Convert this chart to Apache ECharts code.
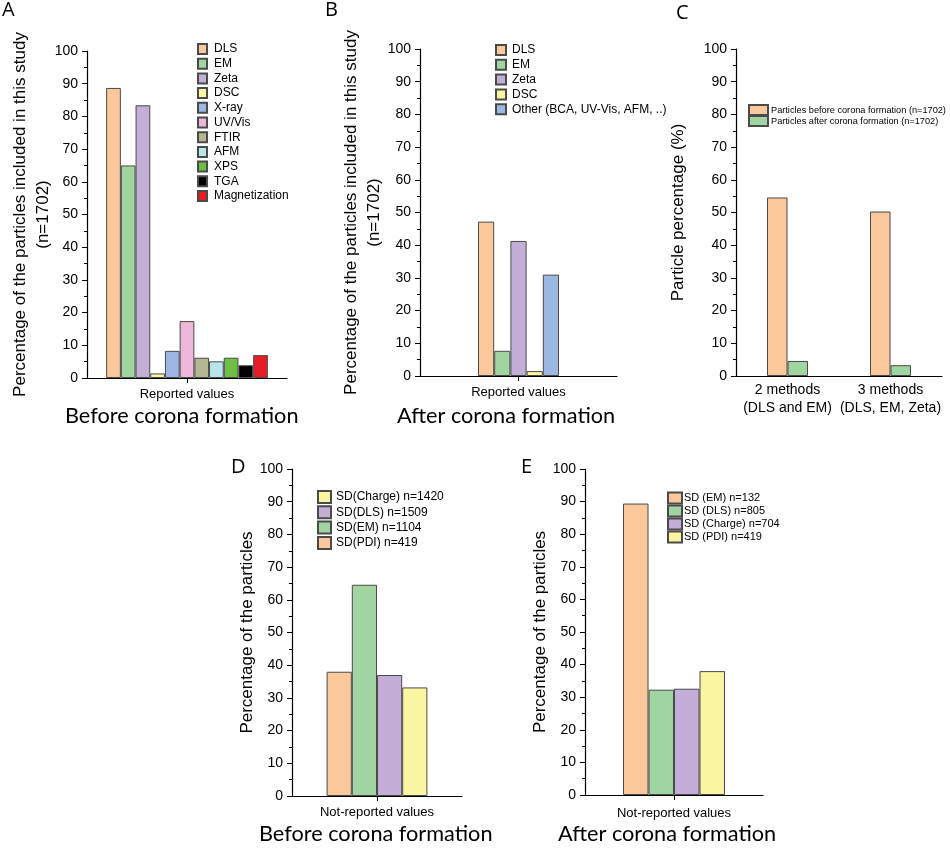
<!DOCTYPE html>
<html>
<head>
<meta charset="utf-8">
<script src="https://cdn.jsdelivr.net/npm/echarts@6/dist/echarts.min.js"></script>
<style>html,body{margin:0;padding:0;background:#fff}#c{width:950px;height:849px}</style>
</head>
<body>
<div id="c"></div>
<script>
// ---- data ----
const methodsA = ['DLS','EM','Zeta','DSC','X-ray','UV/Vis','FTIR','AFM','XPS','TGA','Magnetization'];
const valuesA = [88.7, 65.0, 83.4, 1.4, 8.3, 17.4, 6.2, 5.1, 6.2, 3.9, 7.0];
const methodsB = ['DLS','EM','Zeta','DSC','Other (BCA, UV-Vis, AFM, ..)'];
const valuesB = [47.2, 7.7, 41.3, 1.5, 31.0];
const categoriesC = ['2 methods\n(DLS and EM)', '3 methods\n(DLS, EM, Zeta)'];
const seriesC = ['Particles before corona formation (n=1702)', 'Particles after corona formation (n=1702)'];
const beforeC = [54.6, 50.3];
const afterC = [4.6, 3.3];
const seriesD = ['SD(PDI) n=419', 'SD(EM) n=1104', 'SD(DLS) n=1509', 'SD(Charge) n=1420'];
const valuesD = [38.0, 64.6, 37.0, 33.2];
const seriesE = ['SD (EM) n=132', 'SD (DLS) n=805', 'SD (Charge) n=704', 'SD (PDI) n=419'];
const valuesE = [89.4, 32.3, 32.6, 38.0];
const catA = ['Reported values'];
const catD = ['Not-reported values'];

// ---- styles ----
const C = {
  orange:'#FBC89B', green:'#A0D4A0', purple:'#C2AED6', yellow:'#FAF5A0', blue:'#9CB8E2',
  pink:'#EDB8D8', ftir:'#B4B691', afm:'#B8E4EC', xps:'#6EBE46', tga:'#000000', mag:'#E81C24'
};
const colorsA = [C.orange,C.green,C.purple,C.yellow,C.blue,C.pink,C.ftir,C.afm,C.xps,C.tga,C.mag];
const colorsB = [C.orange,C.green,C.purple,C.yellow,C.blue];
const colorsD = [C.orange,C.green,C.purple,C.yellow];
const colorsE = [C.orange,C.green,C.purple,C.yellow];
const FONT = '"Liberation Sans", Arial, sans-serif';
const TFONT = 'Lato, "Open Sans", sans-serif';

const grids = [
  {left:87, top:51, width:200, height:327},
  {left:420, top:49, width:197, height:327},
  {left:736, top:49, width:206, height:327},
  {left:292, top:469, width:170, height:327},
  {left:585, top:469, width:178, height:326}
];

function yAxis(i, name, gap){
  return {
    type:'value', gridIndex:i, min:0, max:100, interval:10,
    name:name, nameLocation:'middle', nameGap:gap, nameMoveOverlap:false,
    nameTextStyle:{fontFamily:FONT, fontSize:17, color:'#000', lineHeight:23},
    axisLine:{show:true, lineStyle:{color:'#000', width:1.2}},
    axisTick:{show:true, length:5, lineStyle:{color:'#000'}},
    minorTick:{show:true, splitNumber:2, length:3, lineStyle:{color:'#000'}},
    axisLabel:{fontFamily:FONT, fontSize:14, color:'#000', margin:9},
    splitLine:{show:false}
  };
}
function xAxis(i, data, opts){
  return Object.assign({
    type:'category', gridIndex:i, data:data,
    axisLine:{show:true, lineStyle:{color:'#000', width:1.2}},
    axisTick:{show:true, alignWithLabel:true, length:5, lineStyle:{color:'#000'}},
    axisLabel:{fontFamily:FONT, fontSize:13, color:'#000', margin:10}
  }, opts||{});
}
function bar(name, xi, data, color, width){
  return {
    type:'bar', name:name, xAxisIndex:xi, yAxisIndex:xi, data:data,
    barWidth:width, barGap:'0%',
    itemStyle:{color:color, borderColor:'#4a4a4a', borderWidth:1},
    emphasis:{disabled:true}
  };
}

const series = [];
methodsA.forEach((m,k)=>series.push(bar(m,0,[valuesA[k]],colorsA[k],14.7)));
methodsB.forEach((m,k)=>series.push(bar(m,1,[valuesB[k]],colorsB[k],16.2)));
series.push(bar(seriesC[0],2,beforeC,C.orange,20.5));
series.push(bar(seriesC[1],2,afterC,C.green,20.5));
seriesD.forEach((m,k)=>series.push(bar(m,3,[valuesD[k]],colorsD[k],25.2)));
seriesE.forEach((m,k)=>series.push(bar(m,4,[valuesE[k]],colorsE[k],25.5)));

function legend(data, left, top, iw, ih, gap, fs, tpad){
  return {
    data:data, orient:'vertical', left:left, top:top, itemWidth:iw, itemHeight:ih, itemGap:gap,
    icon:'rect', selectedMode:false, padding:0,
    textStyle:{fontFamily:FONT, fontSize:fs, lineHeight:ih, color:'#000', padding:[0,0,0,tpad]}
  };
}

function t(text, left, top, fs, font){
  return {text:text, left:left, top:top, padding:0, textStyle:{fontFamily:font||TFONT, fontSize:fs, fontWeight:'normal', color:'#000'}};
}

const option = {
  animation:false,
  backgroundColor:'#fff',
  title:[
    t('A', 2, 0, 20, '"Open Sans", sans-serif'), t('B', 325, 0, 20, '"Open Sans", sans-serif'),
    t('C', 676, 3, 20, '"Open Sans", sans-serif'), t('D', 231, 457, 20, '"Open Sans", sans-serif'),
    t('E', 521, 457, 20, '"Open Sans", sans-serif'),
    t('Before corona formation', 65, 405, 21.7), t('After corona formation', 397, 405, 21.7),
    t('Before corona formation', 259, 823, 21.7), t('After corona formation', 558, 823, 21.7)
  ],
  legend:[
    legend(methodsA, 197, 43, 9, 10, 2.7, 12, 2),
    legend(methodsB, 495, 44, 10, 10, 2.8, 12, 1),
    legend(seriesC, 748, 104, 19, 10, -1, 9.2, -2),
    legend(seriesD.slice().reverse(), 317, 490, 13, 12, 1.3, 12, 0),
    legend(seriesE, 667, 491.5, 14, 11, 0, 11, -3)
  ],
  grid:grids,
  xAxis:[
    xAxis(0, catA),
    xAxis(1, catA),
    xAxis(2, categoriesC, {axisTick:{show:false}, axisLabel:{interval:0, fontFamily:FONT, fontSize:14, color:'#000', margin:5, lineHeight:18}}),
    xAxis(3, catD),
    xAxis(4, catD, {axisLabel:{fontFamily:FONT, fontSize:13, color:'#000', margin:12}})
  ],
  yAxis:[
    yAxis(0, 'Percentage of the particles included in this study\n(n=1702)', 32),
    yAxis(1, 'Percentage of the particles included in this study\n(n=1702)', 34),
    yAxis(2, 'Particle percentage (%)', 46),
    yAxis(3, 'Percentage of the particles', 33),
    yAxis(4, 'Percentage of the particles', 33)
  ],
  series:series
};
echarts.init(document.getElementById('c'), null, {renderer:'canvas'}).setOption(option);
</script>
</body>
</html>
